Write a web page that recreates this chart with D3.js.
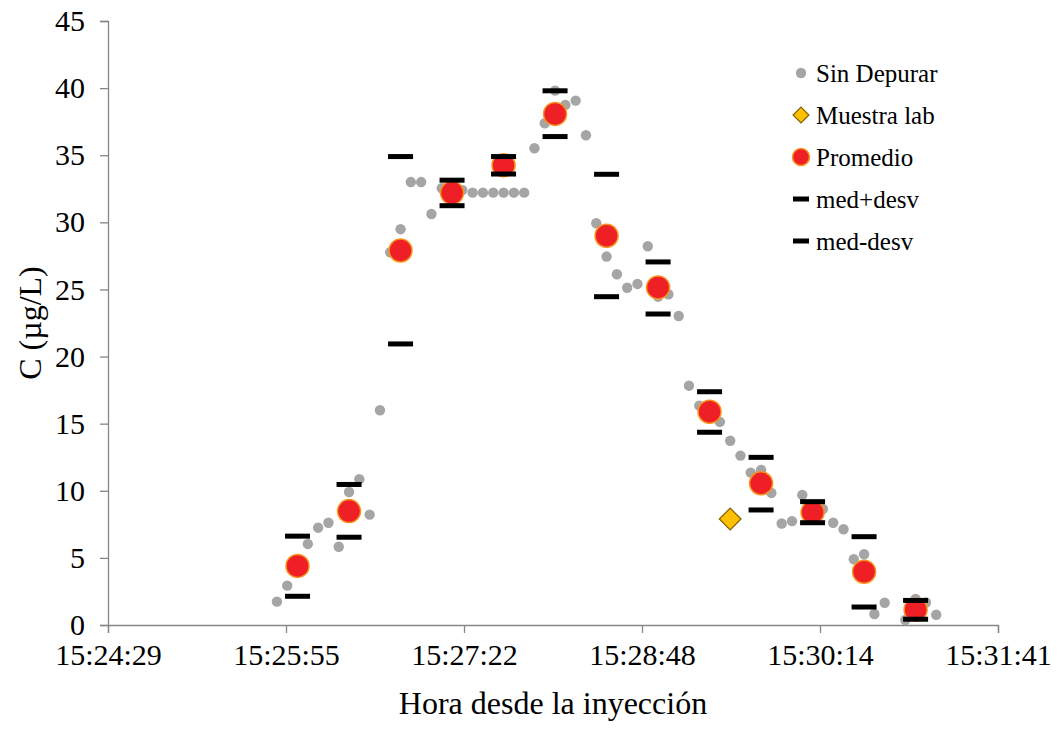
<!DOCTYPE html>
<html>
<head>
<meta charset="utf-8">
<script src="https://cdn.jsdelivr.net/npm/d3@7"></script>
<style>
  body { margin: 0; background: #fff; }
  text { font-family: "Liberation Serif", "Times New Roman", serif; fill: #000; }
</style>
</head>
<body>
<div id="chart"></div>
<script>
var svgWidth = 1063;
var svgHeight = 729;

var margin = { top: 21, right: 65, bottom: 104, left: 108 };
var width = svgWidth - margin.left - margin.right;
var height = svgHeight - margin.top - margin.bottom;

// x axis tick labels (first and last give the domain)
var xTickLabels = ["15:24:29", "15:25:55", "15:27:22", "15:28:48", "15:30:14", "15:31:41"];
var yTicks = [0, 5, 10, 15, 20, 25, 30, 35, 40, 45];

// Sin Depurar (raw readings)
var rawTimes = [
  "15:25:51", "15:25:56", "15:26:01", "15:26:06", "15:26:11", "15:26:16", "15:26:21", "15:26:26",
  "15:26:31", "15:26:36", "15:26:41", "15:26:46", "15:26:51", "15:26:56", "15:27:01", "15:27:06",
  "15:27:11", "15:27:16", "15:27:21", "15:27:26", "15:27:31", "15:27:36", "15:27:41", "15:27:46",
  "15:27:51", "15:27:56", "15:28:01", "15:28:06", "15:28:11", "15:28:16", "15:28:21", "15:28:26",
  "15:28:31", "15:28:36", "15:28:41", "15:28:46", "15:28:51", "15:28:56", "15:29:01", "15:29:06",
  "15:29:11", "15:29:16", "15:29:21", "15:29:26", "15:29:31", "15:29:36", "15:29:41", "15:29:46",
  "15:29:51", "15:29:56", "15:30:01", "15:30:06", "15:30:11", "15:30:16", "15:30:21", "15:30:26",
  "15:30:31", "15:30:36", "15:30:41", "15:30:46", "15:30:56", "15:31:01", "15:31:06", "15:31:11"
];
var rawValues = [
  1.74, 2.93, 4.3, 6.04, 7.25, 7.62, 5.83, 9.91,
  10.86, 8.22, 16.0, 27.77, 29.49, 33.0, 33.0, 30.62,
  32.54, 32.9, 32.4, 32.21, 32.21, 32.21, 32.21, 32.21,
  32.21, 35.52, 37.38, 39.81, 38.75, 39.07, 36.49, 29.93,
  27.45, 26.13, 25.13, 25.41, 28.22, 24.46, 24.64, 23.02,
  17.83, 16.34, 15.9, 15.13, 13.73, 12.62, 11.35, 11.55,
  9.84, 7.56, 7.74, 9.69, 8.4, 8.64, 7.62, 7.13,
  4.9, 5.27, 0.82, 1.66, 0.37, 1.94, 1.68, 0.76
];

// Muestra lab
var labTimes = ["15:29:31"];
var labValues = [7.9];

// Promedio and med +/- desv
var avgTimes = ["15:26:01", "15:26:26", "15:26:51", "15:27:16", "15:27:41", "15:28:06", "15:28:31",
                "15:28:56", "15:29:21", "15:29:46", "15:30:11", "15:30:36", "15:31:01"];
var avgValues = [4.4, 8.49, 27.9, 32.2, 34.25, 38.08, 29.0, 25.15, 15.89, 10.56, 8.4, 3.97, 1.14];
var plusValues = [6.62, 10.47, 34.9, 33.14, 34.9, 39.8, 33.58, 27.05, 17.38, 12.49, 9.19, 6.58, 1.83];
var minusValues = [2.14, 6.54, 20.94, 31.24, 33.6, 36.39, 24.46, 23.17, 14.36, 8.57, 7.62, 1.34, 0.43];

var parseTime = d3.timeParse("%H:%M:%S");

var svg = d3.select("#chart")
  .append("svg")
  .attr("width", svgWidth)
  .attr("height", svgHeight);

var chartGroup = svg.append("g")
  .attr("transform", `translate(${margin.left}, ${margin.top})`);

var t0 = parseTime(xTickLabels[0]);
var t1 = parseTime(xTickLabels[xTickLabels.length - 1]);

var xScale = d3.scaleTime()
  .domain([t0, t1])
  .range([0, width]);

var yScale = d3.scaleLinear()
  .domain([0, 45])
  .range([height, 0]);

// evenly spaced ticks like the spreadsheet axis
var xTickValues = xTickLabels.map(function(d, i) {
  return new Date(+t0 + i * (t1 - t0) / (xTickLabels.length - 1));
});

var bottomAxis = d3.axisBottom(xScale)
  .tickValues(xTickValues)
  .tickSize(8)
  .tickPadding(11)
  .tickFormat(function(d, i) { return xTickLabels[i]; });

var leftAxis = d3.axisLeft(yScale)
  .tickValues(yTicks)
  .tickSize(8)
  .tickPadding(15);

var xAxisG = chartGroup.append("g")
  .attr("transform", `translate(0, ${height})`)
  .call(bottomAxis);

var yAxisG = chartGroup.append("g")
  .call(leftAxis);

[xAxisG, yAxisG].forEach(function(g) {
  g.selectAll("path, line").attr("stroke", "#868686").attr("stroke-width", 1.3);
  g.selectAll("text").style("font-size", "30px").attr("fill", "#000");
});

// raw points
var rawData = rawTimes.map(function(t, i) { return { t: parseTime(t), v: rawValues[i] }; });
chartGroup.selectAll(".raw")
  .data(rawData)
  .enter()
  .append("circle")
  .attr("class", "raw")
  .attr("cx", d => xScale(d.t))
  .attr("cy", d => yScale(d.v))
  .attr("r", 5.2)
  .attr("fill", "#a5a5a5");

// lab sample diamond
var diamond = d3.symbol().type(d3.symbolDiamond2).size(300);
var labData = labTimes.map(function(t, i) { return { t: parseTime(t), v: labValues[i] }; });
chartGroup.selectAll(".lab")
  .data(labData)
  .enter()
  .append("path")
  .attr("class", "lab")
  .attr("d", diamond)
  .attr("transform", d => `translate(${xScale(d.t)}, ${yScale(d.v)})`)
  .attr("fill", "#ffc000")
  .attr("stroke", "#7f6000")
  .attr("stroke-width", 1.2);

// averages
var avgData = avgTimes.map(function(t, i) {
  return { t: parseTime(t), v: avgValues[i], p: plusValues[i], m: minusValues[i] };
});

chartGroup.selectAll(".avg")
  .data(avgData)
  .enter()
  .append("circle")
  .attr("class", "avg")
  .attr("cx", d => xScale(d.t))
  .attr("cy", d => yScale(d.v))
  .attr("r", 11.5)
  .attr("fill", "#ee2026")
  .attr("stroke", "#f7941d")
  .attr("stroke-width", 1.5);

var barW = 25, barH = 5;
["p", "m"].forEach(function(key) {
  chartGroup.selectAll(".bar-" + key)
    .data(avgData)
    .enter()
    .append("rect")
    .attr("class", "bar-" + key)
    .attr("x", d => xScale(d.t) - barW / 2)
    .attr("y", d => yScale(d[key]) - barH / 2)
    .attr("width", barW)
    .attr("height", barH)
    .attr("fill", "#000");
});

// axis titles
svg.append("text")
  .attr("x", margin.left + width / 2)
  .attr("y", 714)
  .attr("text-anchor", "middle")
  .style("font-size", "32px")
  .text("Hora desde la inyección");

svg.append("text")
  .attr("transform", "translate(41, 323) rotate(-90)")
  .attr("text-anchor", "middle")
  .style("font-size", "32px")
  .text("C (µg/L)");

// legend
var legendItems = ["Sin Depurar", "Muestra lab", "Promedio", "med+desv", "med-desv"];
var legend = svg.append("g").attr("transform", "translate(801, 73)");
var rowH = 42;

legendItems.forEach(function(name, i) {
  var row = legend.append("g").attr("transform", `translate(0, ${i * rowH})`);
  if (i === 0) {
    row.append("circle").attr("r", 5.2).attr("fill", "#a5a5a5");
  } else if (i === 1) {
    row.append("path").attr("d", d3.symbol().type(d3.symbolDiamond2).size(160))
      .attr("fill", "#ffc000").attr("stroke", "#7f6000").attr("stroke-width", 1.2);
  } else if (i === 2) {
    row.append("circle").attr("r", 8.5).attr("fill", "#ee2026")
      .attr("stroke", "#f7941d").attr("stroke-width", 1.5);
  } else {
    row.append("rect").attr("x", -8).attr("y", -2.5).attr("width", 16).attr("height", 5).attr("fill", "#000");
  }
  row.append("text")
    .attr("x", 15)
    .attr("y", 9)
    .style("font-size", "25px")
    .text(name);
});
</script>
</body>
</html>
